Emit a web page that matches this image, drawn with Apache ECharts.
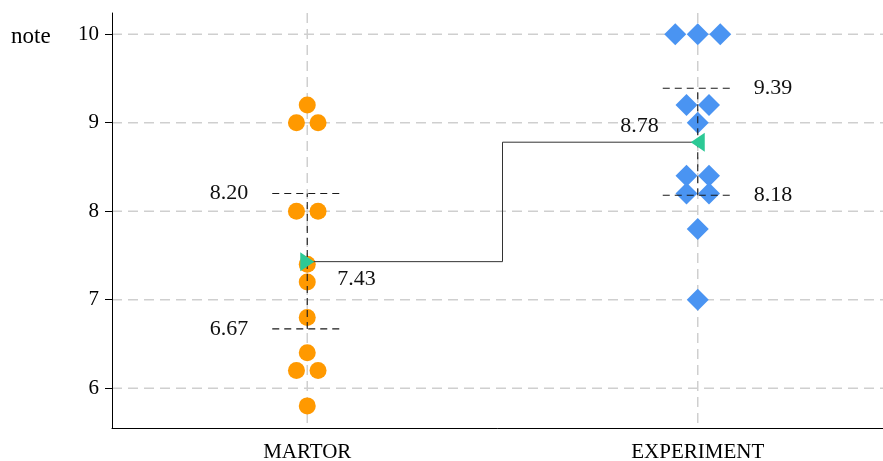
<!DOCTYPE html>
<html>
<head>
<meta charset="utf-8">
<script src="https://cdn.jsdelivr.net/npm/echarts@6/dist/echarts.min.js"></script>
<style>
  html, body { margin: 0; padding: 0; background: #ffffff; }
  #chart { width: 883px; height: 461px; }
</style>
</head>
<body>
<div id="chart"></div>
<script>
// Groups and individual scores
const groups = ['MARTOR', 'EXPERIMENT'];
const martorScores = [9.2, 9.0, 9.0, 8.0, 8.0, 7.4, 7.2, 6.8, 6.4, 6.2, 6.2, 5.8];
const experimentScores = [10, 10, 10, 9.2, 9.2, 9.0, 8.4, 8.4, 8.2, 8.2, 7.8, 7.0];

// Group means and 95% confidence bounds
const groupMeans = [7.43, 8.78];
const ciLower = [6.67, 8.18];
const ciUpper = [8.20, 9.39];

// Y axis
const yTicks = [6, 7, 8, 9, 10];
const yMin = 5.55;
const yMax = 10.24;
const yName = 'note';

const SERIF = '"Liberation Serif", "Times New Roman", serif';
const GRID_STYLE = { stroke: '#cfcfcf', lineWidth: 1.5, lineDash: [10, 6] };
const CI_STYLE = { stroke: '#1a1a1a', lineWidth: 1.1, lineDash: [7, 5] };

// Spread tied values side by side (simple beeswarm)
function swarm(category, values, spacing) {
  const counts = {};
  values.forEach(v => { counts[v] = (counts[v] || 0) + 1; });
  const seen = {};
  return values.map(v => {
    const i = seen[v] = (seen[v] === undefined ? 0 : seen[v] + 1);
    const n = counts[v];
    return { value: [category, v], symbolOffset: [(i - (n - 1) / 2) * spacing, 0] };
  });
}

const chart = echarts.init(document.getElementById('chart'), null, { renderer: 'canvas' });

const option = {
  animation: false,
  backgroundColor: '#ffffff',
  // the plot area runs a little past the right edge of the canvas
  grid: { left: 112, width: 781, top: 13, bottom: 33, containLabel: false, outerBoundsMode: 'none' },
  graphic: [{
    type: 'text', left: 11, top: 25,
    style: { text: yName, font: '23px ' + SERIF, fill: '#000' }
  }],
  xAxis: {
    type: 'category',
    data: groups,
    boundaryGap: true,
    axisLine: { lineStyle: { color: '#000', width: 1 } },
    axisTick: { alignWithLabel: true, length: 5, lineStyle: { color: '#000' } },
    axisLabel: { color: '#000', fontFamily: SERIF, fontSize: 21, margin: 14 },
    splitLine: { show: false }
  },
  yAxis: {
    type: 'value',
    min: yMin,
    max: yMax,
    axisLine: { show: true, lineStyle: { color: '#000', width: 1 } },
    axisTick: { show: true, length: 7, customValues: yTicks, lineStyle: { color: '#000' } },
    axisLabel: { color: '#000', fontFamily: SERIF, fontSize: 21, margin: 13, customValues: yTicks },
    splitLine: { show: false }
  },
  series: [
    {
      // horizontal grid lines at the y ticks
      type: 'custom',
      z: 0,
      silent: true,
      data: yTicks.map(v => [0, v]),
      renderItem(params, api) {
        const cs = params.coordSys;
        const y = api.coord([0, api.value(1)])[1];
        return { type: 'line', shape: { x1: cs.x, y1: y, x2: cs.x + cs.width, y2: y }, style: GRID_STYLE };
      }
    },
    {
      // vertical grid lines through each group
      type: 'custom',
      z: 0,
      silent: true,
      data: groups.map((g, i) => [i, yMin]),
      renderItem(params, api) {
        const cs = params.coordSys;
        const x = api.coord([api.value(0), api.value(1)])[0];
        return { type: 'line', shape: { x1: x, y1: cs.y, x2: x, y2: cs.y + cs.height }, style: GRID_STYLE };
      }
    },
    {
      type: 'scatter',
      z: 2,
      symbol: 'circle',
      symbolSize: 17,
      itemStyle: { color: '#ff9900', opacity: 1 },
      data: swarm(groups[0], martorScores, 21.6)
    },
    {
      type: 'scatter',
      z: 2,
      symbol: 'diamond',
      symbolSize: 22,
      itemStyle: { color: '#4a94f2', opacity: 1 },
      data: swarm(groups[1], experimentScores, 22.5)
    },
    {
      // confidence interval brackets with their bound labels
      type: 'custom',
      z: 3,
      silent: true,
      data: groups.map((g, i) => [i, ciLower[i], ciUpper[i]]),
      renderItem(params, api) {
        const c = api.value(0);
        const lo = api.coord([c, api.value(1)]);
        const hi = api.coord([c, api.value(2)]);
        const half = 35;
        const leftSide = c === 0;
        const tx = leftSide ? lo[0] - 59 : lo[0] + 56;
        const align = leftSide ? 'right' : 'left';
        const txt = (v, y) => ({
          type: 'text', x: tx, y: y,
          style: { text: v.toFixed(2), align: align, verticalAlign: 'middle', font: '22px ' + SERIF, fill: '#111' }
        });
        return {
          type: 'group',
          children: [
            { type: 'line', shape: { x1: lo[0] - half, y1: lo[1], x2: lo[0] + half, y2: lo[1] }, style: CI_STYLE },
            { type: 'line', shape: { x1: hi[0] - half, y1: hi[1], x2: hi[0] + half, y2: hi[1] }, style: CI_STYLE },
            { type: 'line', shape: { x1: lo[0], y1: lo[1], x2: hi[0], y2: hi[1] }, style: CI_STYLE },
            txt(api.value(1), lo[1]),
            txt(api.value(2), hi[1])
          ]
        };
      }
    },
    {
      // connection between group means
      type: 'line',
      z: 4,
      step: 'middle',
      showSymbol: false,
      symbol: 'none',
      lineStyle: { color: '#333333', width: 1 },
      data: groups.map((g, i) => [g, groupMeans[i]])
    },
    {
      type: 'scatter',
      z: 5,
      symbol: 'triangle',
      symbolSize: [19, 14],
      itemStyle: { color: '#2cc995', opacity: 1 },
      data: groups.map((g, i) => ({ value: [g, groupMeans[i]], symbolRotate: i === 0 ? -90 : 90 }))
    },
    {
      // mean value labels
      type: 'custom',
      z: 6,
      silent: true,
      data: groups.map((g, i) => [i, groupMeans[i]]),
      renderItem(params, api) {
        const c = api.value(0);
        const p = api.coord([c, api.value(1)]);
        const first = c === 0;
        return {
          type: 'text',
          x: first ? p[0] + 30 : p[0] - 39,
          y: first ? p[1] + 18 : p[1] - 16,
          style: {
            text: api.value(1).toFixed(2),
            align: first ? 'left' : 'right',
            verticalAlign: 'middle',
            font: '22px ' + SERIF,
            fill: '#111'
          }
        };
      }
    }
  ]
};

chart.setOption(option);
</script>
</body>
</html>
